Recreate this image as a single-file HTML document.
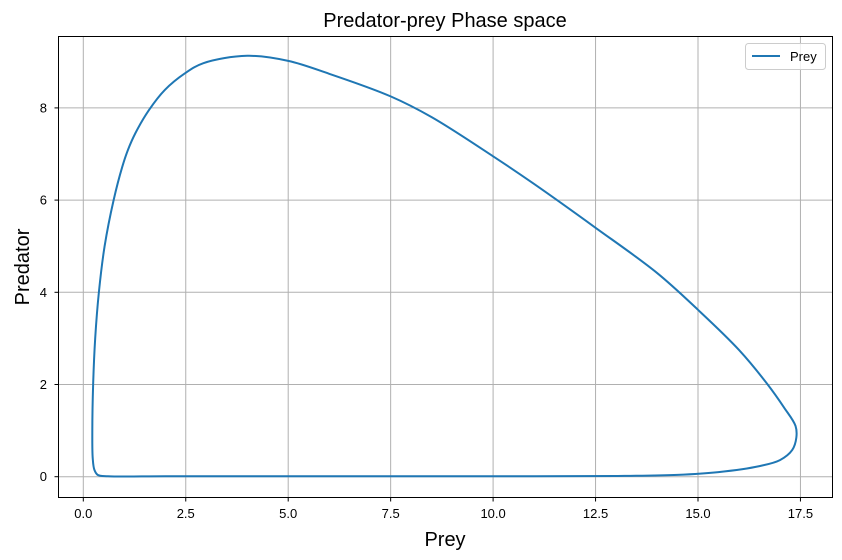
<!DOCTYPE html>
<html><head><meta charset="utf-8"><style>
body{margin:0;background:#fff;}
svg{display:block;font-family:"Liberation Sans","DejaVu Sans",sans-serif;}
</style></head><body>
<svg id="chart" width="842" height="560">
<text x="445" y="27" font-size="20" text-anchor="middle">Predator-prey Phase space</text>
<text x="445" y="546" font-size="20" text-anchor="middle">Prey</text>
<text transform="translate(29,267) rotate(-90)" font-size="20" text-anchor="middle">Predator</text>
<g id="grid"></g><g id="ticks"></g><g id="series"></g>
<rect x="58.5" y="36.5" width="774" height="461" fill="none" stroke="#000" stroke-width="1"/>
<g>
<rect x="745.5" y="43.5" width="80" height="26" rx="3" fill="#fff" fill-opacity="0.8" stroke="#ccc"/>
<line x1="752" y1="56" x2="780" y2="56" stroke="#1f77b4" stroke-width="2"/>
<text x="790" y="61" font-size="13">Prey</text>
</g>
</svg>
<script>
const xTicks=[0,2.5,5,7.5,10,12.5,15,17.5];
const xTickLabels=["0.0","2.5","5.0","7.5","10.0","12.5","15.0","17.5"];
const yTicks=[0,2,4,6,8];
const yTickLabels=["0","2","4","6","8"];
const preyVals=[0.6,2,5,8,11,13,14.5,15.5,16.5,17.0,17.3,17.4,17.38,17.1,16.7,16,15,14,12.5,11,10,8.5,7.5,6,5,4,2.93,2.48,1.99,1.6,1.27,1.09,0.95,0.74,0.52,0.38,0.29,0.24,0.22,0.23,0.27,0.35];
const predVals=[0.01,0.01,0.01,0.01,0.01,0.015,0.04,0.1,0.23,0.36,0.58,0.85,1.1,1.5,2.0,2.75,3.62,4.42,5.4,6.35,6.95,7.8,8.25,8.74,9.02,9.13,8.97,8.75,8.39,7.95,7.45,7.09,6.72,6.0,5.0,4.0,3.0,2.0,1.0,0.4,0.15,0.04];
const X=v=>83.3+v*40.98, Y=v=>476.7-v*46.1;
const NS="http://www.w3.org/2000/svg";
const grid=document.getElementById('grid'),ticks=document.getElementById('ticks'),series=document.getElementById('series');
function mk(tag,attrs,parent){const e=document.createElementNS(NS,tag);for(const k in attrs)e.setAttribute(k,attrs[k]);parent.appendChild(e);return e;}
xTicks.forEach((t,i)=>{
 const g=mk('line',{x1:X(t),x2:X(t),y1:36.5,y2:497.5,stroke:'#b0b0b0','stroke-width':1},grid);
 
 
 const tk=mk('line',{x1:X(t),x2:X(t),y1:497.5,y2:501.5,stroke:'#000'},ticks);
 
 
 const tx=mk('text',{x:X(t),y:518,'font-size':13,'text-anchor':'middle'},ticks);
 tx.textContent=xTickLabels[i];
 
 
});
yTicks.forEach((t,i)=>{
 const g=mk('line',{x1:58.5,x2:832.5,y1:Y(t),y2:Y(t),stroke:'#b0b0b0','stroke-width':1},grid);
 
 
 const tk=mk('line',{x1:54.5,x2:58.5,y1:Y(t),y2:Y(t),stroke:'#000'},ticks);
 
 
 const tx=mk('text',{x:47,y:Y(t)+4.5,'font-size':13,'text-anchor':'end'},ticks);
 tx.textContent=yTickLabels[i];
 
 
});
const pts=preyVals.map((v,i)=>[X(v),Y(predVals[i])]);
const n=pts.length;
const P=i=>pts[(i+n)%n];
const dist=(a,b)=>Math.max(1e-3,Math.sqrt(Math.hypot(a[0]-b[0],a[1]-b[1])));
let d='M'+pts[0][0]+','+pts[0][1];
for(let i=0;i<n;i++){
 const p0=P(i-1),p1=P(i),p2=P(i+1),p3=P(i+2);
 const d1=dist(p0,p1),d2=dist(p1,p2),d3=dist(p2,p3);
 const c1=[0,1].map(k=>(d1*d1*p2[k]-d2*d2*p0[k]+(2*d1*d1+3*d1*d2+d2*d2)*p1[k])/(3*d1*(d1+d2)));
 const c2=[0,1].map(k=>(d3*d3*p1[k]-d2*d2*p3[k]+(2*d3*d3+3*d3*d2+d2*d2)*p2[k])/(3*d3*(d3+d2)));
 d+=` C${c1[0]},${c1[1]} ${c2[0]},${c2[1]} ${p2[0]},${p2[1]}`;
}
const path=mk('path',{d:d,fill:'none',stroke:'#1f77b4','stroke-width':2,'stroke-linejoin':'round'},series);


</script>
</body></html>
